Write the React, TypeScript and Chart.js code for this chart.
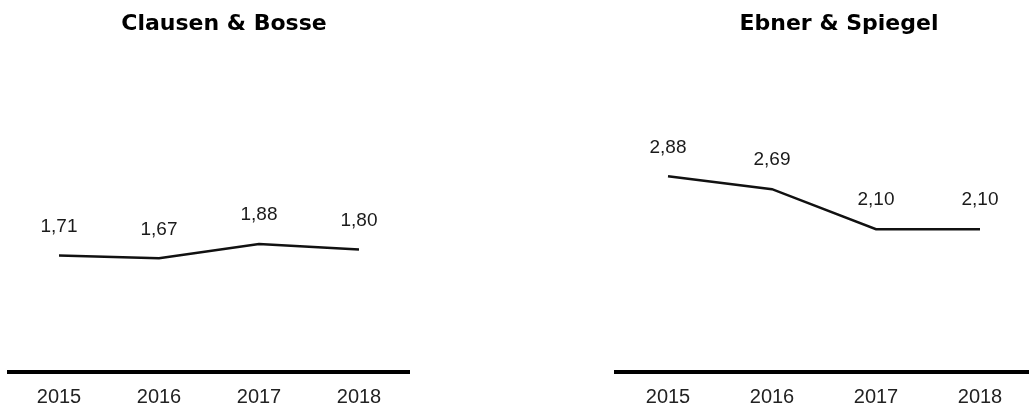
import React, { useEffect, useRef } from "react";
import { Chart, registerables } from "chart.js";

Chart.register(...registerables);

const years = ["2015", "2016", "2017", "2018"];
const clausenBosse = [1.71, 1.67, 1.88, 1.8];
const ebnerSpiegel = [2.88, 2.69, 2.1, 2.1];
const titleLeft = "Clausen & Bosse";
const titleRight = "Ebner & Spiegel";

const valueLabels = {
  id: "valueLabels",
  afterDatasetsDraw(chart: any) {
    const ctx = chart.ctx;
    ctx.save();
    ctx.font = "19px 'Liberation Sans', Arial, sans-serif";
    ctx.fillStyle = "#1a1a1a";
    ctx.textAlign = "center";
    ctx.textBaseline = "middle";
    chart.data.datasets.forEach((ds: any, i: number) => {
      const meta = chart.getDatasetMeta(i);
      meta.data.forEach((pt: any, j: number) => {
        const v = ds.data[j] as number;
        ctx.fillText(v.toFixed(2).replace(".", ","), pt.x, pt.y - 29);
      });
    });
    ctx.restore();
  },
};

const headTitle = {
  id: "headTitle",
  afterDraw(chart: any, _args: any, opts: any) {
    const ctx = chart.ctx;
    const area = chart.chartArea;
    ctx.save();
    ctx.font = "bold 22px 'DejaVu Sans', sans-serif";
    ctx.fillStyle = "#000";
    ctx.textAlign = "center";
    ctx.textBaseline = "middle";
    ctx.fillText(opts.text, (area.left + area.right) / 2 + 15, 24);
    ctx.restore();
  },
};

function LineChart(props: {
  title: string;
  values: number[];
  left: number;
  width: number;
  padLeft: number;
  padRight: number;
}) {
  const ref = useRef<HTMLCanvasElement>(null);
  useEffect(() => {
    if (!ref.current) return;
    const chart = new Chart(ref.current, {
      type: "line",
      data: {
        labels: years,
        datasets: [
          {
            data: props.values,
            borderColor: "#111",
            borderWidth: 2.5,
            pointRadius: 0,
            tension: 0,
            fill: false,
          },
        ],
      },
      options: {
        responsive: false,
        animation: false,
        devicePixelRatio: 1,
        layout: {
          padding: { left: props.padLeft, right: props.padRight, top: 100.4, bottom: 0.5 },
        },
        plugins: {
          legend: { display: false },
          tooltip: { enabled: false },
          title: { display: false },
          headTitle: { text: props.title },
        } as any,
        scales: {
          x: {
            offset: true,
            grid: { display: false, drawTicks: false },
            border: { display: true, color: "#000", width: 4 },
            ticks: {
              color: "#222",
              padding: 14,
              maxRotation: 0,
              font: { family: "'Liberation Sans', Arial, sans-serif", size: 20 },
            },
          },
          y: {
            display: false,
            min: 0,
            max: 4,
          },
        },
      },
      plugins: [valueLabels, headTitle],
    });
    return () => chart.destroy();
  }, []);
  return (
    <canvas
      ref={ref}
      width={props.width}
      height={424}
      style={{ position: "absolute", top: 0, left: props.left, width: props.width, height: 424 }}
    />
  );
}

export default function App() {
  return (
    <div
      style={{
        position: "absolute",
        top: 0,
        left: 0,
        width: 1029,
        height: 407,
        overflow: "hidden",
        background: "#fff",
      }}
    >
      <LineChart title={titleLeft} values={clausenBosse} left={0} width={448} padLeft={9} padRight={39} />
      <LineChart title={titleRight} values={ebnerSpiegel} left={600} width={478} padLeft={16} padRight={46} />
    </div>
  );
}
